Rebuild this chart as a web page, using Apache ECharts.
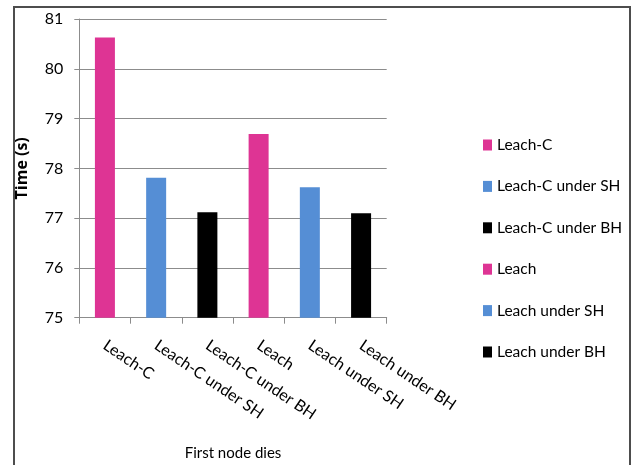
<!DOCTYPE html>
<html>
<head>
<meta charset="utf-8">
<script src="https://cdn.jsdelivr.net/npm/echarts@6/dist/echarts.min.js"></script>
<style>
  html, body { margin: 0; padding: 0; background: #fff; }
  #chart { width: 634px; height: 465px; }
</style>
</head>
<body>
<div id="chart"></div>
<script>
// Protocol variants and time until the first node dies
const categories = ['Leach-C', 'Leach-C under SH', 'Leach-C under BH', 'Leach', 'Leach under SH', 'Leach under BH'];
const timeValues = [80.63, 77.81, 77.12, 78.69, 77.62, 77.10];
const barColors = ['#DE3494', '#558ED5', '#000000', '#DE3494', '#558ED5', '#000000'];
const yTicks = { min: 75, max: 81, step: 1 };

const FONT = 'Lato, "Open Sans", sans-serif';

// One series per category so each gets its own legend entry; they overlap in place.
const series = categories.map((name, i) => ({
  name: name,
  type: 'bar',
  barWidth: 20,
  barGap: '-100%',
  itemStyle: { color: barColors[i] },
  data: categories.map((_, j) => (j === i ? timeValues[i] : null))
}));

const chart = echarts.init(document.getElementById('chart'), null, { renderer: 'canvas' });
chart.setOption({
  animation: false,
  backgroundColor: '#ffffff',
  textStyle: { fontFamily: FONT },
  grid: { left: 79.3, right: 247.3, top: 19, bottom: 147.3, containLabel: false, outerBoundsMode: 'none' },
  legend: {
    orient: 'vertical',
    left: 478,
    top: 132,
    icon: 'rect',
    itemWidth: 9,
    itemHeight: 11,
    itemGap: 25.4,
    textStyle: { fontFamily: FONT, fontSize: 15.5, color: '#000', lineHeight: 16 },
    data: categories
  },
  xAxis: {
    type: 'category',
    data: categories,
    name: 'First node dies',
    nameLocation: 'middle',
    nameGap: 128,
    nameTextStyle: { fontFamily: FONT, fontSize: 15, color: '#000' },
    axisLine: { show: true, lineStyle: { color: '#8c8c8c', width: 1 } },
    axisTick: { show: true, length: 6, alignWithLabel: false, lineStyle: { color: '#8c8c8c' } },
    axisLabel: { rotate: -34, margin: 26, fontFamily: FONT, fontSize: 16, color: '#000', interval: 0 }
  },
  yAxis: {
    type: 'value',
    min: yTicks.min,
    max: yTicks.max,
    interval: yTicks.step,
    name: 'Time (s)',
    nameLocation: 'middle',
    nameGap: 49,
    nameTextStyle: { fontFamily: '"Open Sans", Lato, sans-serif', fontSize: 16, fontWeight: 'bold', color: '#000' },
    axisLine: { show: true, lineStyle: { color: '#8c8c8c', width: 1 } },
    axisTick: { show: true, length: 5, lineStyle: { color: '#8c8c8c' } },
    axisLabel: { margin: 16, fontFamily: FONT, fontSize: 16, color: '#000' },
    splitLine: { show: true, lineStyle: { color: '#8c8c8c', width: 1 } }
  },
  graphic: [{
    type: 'rect',
    shape: { x: 14, y: 7, width: 616, height: 470 },
    style: { fill: 'none', stroke: '#4d4d4d', lineWidth: 2 },
    silent: true
  }],
  series: series
});
</script>
</body>
</html>
